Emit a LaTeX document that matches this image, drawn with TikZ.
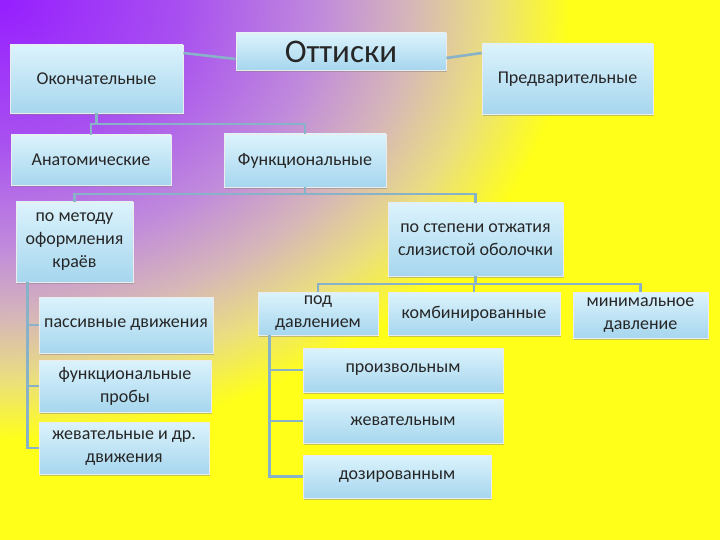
\documentclass[tikz,border=0pt]{standalone}
\usepackage{fontspec}
\setmainfont{Carlito}
\usetikzlibrary{positioning,shadows}
\definecolor{lilac}{RGB}{150,30,255}
\definecolor{mauve}{RGB}{168,80,240}
\definecolor{lavender}{RGB}{192,138,220}
\definecolor{blush}{RGB}{214,182,185}
\definecolor{sand}{RGB}{234,222,128}
\definecolor{lemon}{RGB}{255,255,25}
\definecolor{skytop}{RGB}{220,243,252}
\definecolor{skybot}{RGB}{166,214,238}
\definecolor{wire}{RGB}{135,178,200}
\pgfdeclareradialshading{glow}{\pgfpoint{0bp}{0bp}}{color(0bp)=(lilac); color(8bp)=(mauve);
  color(14bp)=(lavender); color(18bp)=(blush); color(21.5bp)=(sand); color(25bp)=(lemon); color(50bp)=(lemon)}
\tikzset{
  box/.style={draw=white!85!gray,line width=0.8pt,top color=skytop,bottom color=skybot,
              align=center,inner sep=2pt,text=black!85,font=\fontsize{18}{23}\selectfont,
              drop shadow={shadow xshift=1.2pt,shadow yshift=-1.8pt,opacity=0.45}},
  link/.style={line width=2.6pt,wire}
}

\begin{document}
\begin{tikzpicture}[x=1pt,y=-1pt,sz/.style 2 args={minimum width=#1pt,minimum height=#2pt}]
  \useasboundingbox (0,0) rectangle (720,540);
  \fill[lemon] (0,0) rectangle (720,540);
  \begin{scope}
    \clip (0,0) rectangle (720,540);
    \shade[shading=glow] (0,0) ellipse [x radius=570pt,y radius=440pt];
  \end{scope}

  \node[box,sz={210}{37},font=\fontsize{33}{36}\selectfont] (root) at (341,51.5) {Оттиски};
  \node[box,sz={173}{68}] (okon) at (96.5,79)  {Окончательные};
  \node[box,sz={171}{70}] (pred) at (567.5,79) {Предварительные};
  \node[box,sz={160}{50}] (anat) at (91,160)   {Анатомические};
  \node[box,sz={162}{53}] (func) at (305,160.5) {Функциональные};
  \node[box,sz={117}{80}] (metod) at (74.5,242) {по методу\\оформления\\краёв};
  \node[box,sz={175}{73}] (stepen) at (475.5,239.5) {по степени отжатия\\слизистой оболочки};
  \node[box,sz={174}{56}] (pass) at (126,325)  {пассивные движения};
  \node[box,sz={172}{52}] (fprob) at (125,386) {функциональные\\пробы};
  \node[box,sz={170}{52}] (zhev) at (124,448)  {жевательные и др.\\движения};
  \node[box,sz={120}{43}] (pod) at (318,313.5) {под\\давлением};
  \node[box,sz={172}{43}] (komb) at (474,313.5) {комбинированные};
  \node[box,sz={135}{46}] (mini) at (640.5,315) {минимальное\\давление};
  \node[box,sz={200}{44}] (proizv) at (403,370) {произвольным};
  \node[box,sz={200}{44}] (zhevat) at (403,421) {жевательным};
  \node[box,sz={188}{43}] (doz) at (397,476.5)  {дозированным};

  \coordinate (b1) at (96.5,124);
  \coordinate (b2) at (305,194);
  \coordinate (b3) at (475.5,284);
  \draw[link] ([yshift=-7.5pt]root.west) -- ([yshift=26pt]okon.east);
  \draw[link] ([yshift=-6.5pt]root.east) -- ([yshift=26pt]pred.west);
  \draw[link] (okon.south) -- (b1) -| (func.north); \draw[link] (b1) -| (anat.north);
  \draw[link] (func.south) -- (b2) -| (metod.north); \draw[link] (b2) -| (stepen.north);
  \draw[link] ([xshift=12pt]metod.south west) |- (pass.west);
  \draw[link] ([xshift=12pt]metod.south west) |- (fprob.west);
  \draw[link] ([xshift=12pt]metod.south west) |- (zhev.west);
  \draw[link] (stepen.south) -- (b3) -| (pod.north); \draw[link] (b3) -| (komb.north); \draw[link] (b3) -| (mini.north);
  \draw[link] ([xshift=12pt]pod.south west) |- (proizv.west);
  \draw[link] ([xshift=12pt]pod.south west) |- (zhevat.west);
  \draw[link] ([xshift=12pt]pod.south west) |- (doz.west);
\end{tikzpicture}
\end{document}
